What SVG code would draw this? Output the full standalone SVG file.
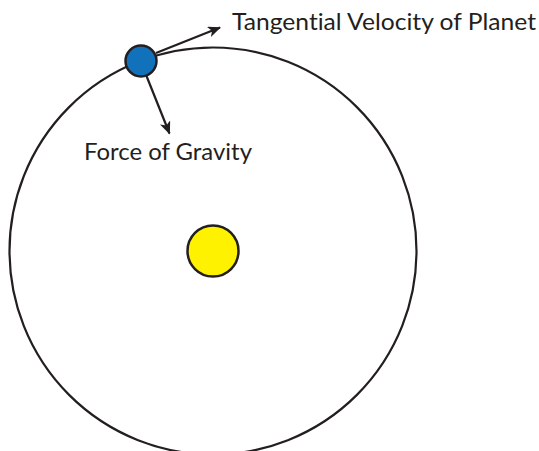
<svg xmlns="http://www.w3.org/2000/svg" width="539" height="451" viewBox="0 0 539 451">
  <style>
    .line { stroke: #231f20; stroke-width: 2.2; fill: none; }
    .body { stroke: #231f20; stroke-width: 2.5; }
    .label { font-family: Lato, "Open Sans", sans-serif; font-size: 23px; fill: #231f20; font-variant-ligatures: none; }
  </style>
  <defs>
    <marker id="arrow" viewBox="0 0 13 11" refX="12" refY="5.5" markerWidth="13" markerHeight="11" markerUnits="userSpaceOnUse" orient="auto">
      <path d="M0,0 L13,5.5 L0,11 L3.5,5.5 z" fill="#231f20"/>
    </marker>
  </defs>
  <rect width="539" height="451" fill="#ffffff"/>
  <g id="orbit">
    <circle cx="213" cy="251" r="203.5" class="line"/>
  </g>
  <g id="connectors">
    <line x1="156" y1="53" x2="220" y2="27.5" class="line" marker-end="url(#arrow)"/>
    <line x1="146.5" y1="76" x2="169.5" y2="133.5" class="line" marker-end="url(#arrow)"/>
  </g>
  <g id="sun">
    <circle cx="213" cy="251" r="25.5" fill="#fff200" class="body"/>
  </g>
  <g id="planet">
    <circle cx="141" cy="61" r="15.5" fill="#1172bb" class="body"/>
  </g>
  <g id="label-velocity">
    <text x="232" y="29.5" class="label" textLength="304" lengthAdjust="spacingAndGlyphs">Tangential Velocity of Planet</text>
  </g>
  <g id="label-gravity">
    <text x="84" y="160" class="label" textLength="168" lengthAdjust="spacingAndGlyphs">Force of Gravity</text>
  </g>
</svg>
